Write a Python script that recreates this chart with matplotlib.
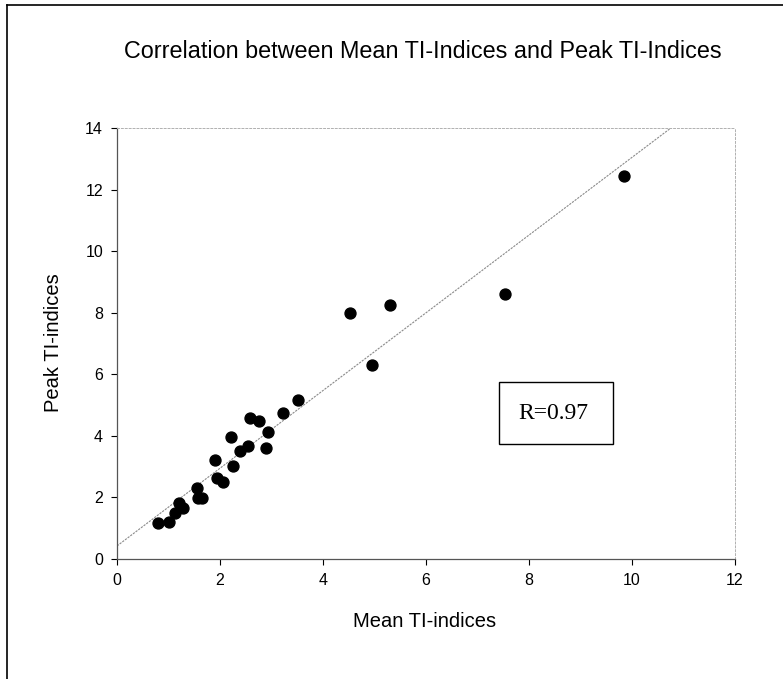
import numpy as np
import matplotlib.pyplot as plt
from matplotlib.lines import Line2D
from matplotlib.patches import Rectangle

plt.rcParams['font.family'] = ['Liberation Sans', 'DejaVu Sans']

# Mean vs peak TI-indices
mean_ti = [0.80, 1.00, 1.13, 1.21, 1.28, 1.55, 1.57, 1.66, 1.90, 1.94, 2.06,
           2.21, 2.26, 2.39, 2.55, 2.58, 2.76, 2.89, 2.93, 3.22, 3.52,
           4.52, 4.96, 5.31, 7.53, 9.84]
peak_ti = [1.16, 1.21, 1.50, 1.81, 1.67, 2.32, 1.97, 1.97, 3.21, 2.64, 2.49,
           3.97, 3.03, 3.51, 3.67, 4.59, 4.49, 3.61, 4.13, 4.73, 5.16,
           7.98, 6.30, 8.25, 8.60, 12.44]
x_ticks = [0, 2, 4, 6, 8, 10, 12]
y_ticks = [0, 2, 4, 6, 8, 10, 12, 14]
r_value = 0.97

fig = plt.figure(figsize=(7.83, 6.79), dpi=100)
ax = fig.add_axes([117 / 783, 1 - 559 / 679, 618 / 783, 431 / 679])

slope, icpt = np.polyfit(mean_ti, peak_ti, 1)
xs = np.array([0, 12])
ax.plot(xs, icpt + slope * xs, color='#8a8a8a', lw=0.8, ls=(0, (2, 1)))
ax.scatter(mean_ti, peak_ti, s=62, color='black', zorder=3)

ax.set_xlim(0, 12)
ax.set_ylim(0, 14)
ax.set_xticks(x_ticks)
ax.set_yticks(y_ticks)
ax.tick_params(direction='out', length=4, width=0.8, labelsize=11.5, pad=6)
for side in ['left', 'bottom']:
    ax.spines[side].set_color('#555555')
    ax.spines[side].set_linewidth(0.9)
for side in ['top', 'right']:
    ax.spines[side].set_color('#b0b0b0')
    ax.spines[side].set_linewidth(0.7)
    ax.spines[side].set_linestyle((0, (2, 2)))

ax.set_xlabel('Mean TI-indices', fontsize=14.5)
ax.xaxis.set_label_coords(0.5 - 1 / 618, -0.123)
ax.set_ylabel('Peak TI-indices', fontsize=14.5)
ax.yaxis.set_label_coords(-0.087, 0.501)

# R value box
ax.add_patch(Rectangle((7.42, 3.73), 2.21, 2.02, fc='white', ec='black', lw=1.0, zorder=4))
ax.text(8.47, 4.72, f'R={r_value}', family='Liberation Serif', fontsize=17,
        ha='center', va='center', zorder=5)

fig.text(423 / 783, 1 - 52 / 679, 'Correlation between Mean TI-Indices and Peak TI-Indices',
         ha='center', va='center', fontsize=16.8)

# outer frame lines (left and top)
fig.add_artist(Line2D([7 / 783, 7 / 783], [0, 1 - 5 / 679], color='black', lw=1.2))
fig.add_artist(Line2D([7 / 783, 1], [1 - 5 / 679, 1 - 5 / 679], color='black', lw=1.2))

fig.savefig('out.png', dpi=100)
